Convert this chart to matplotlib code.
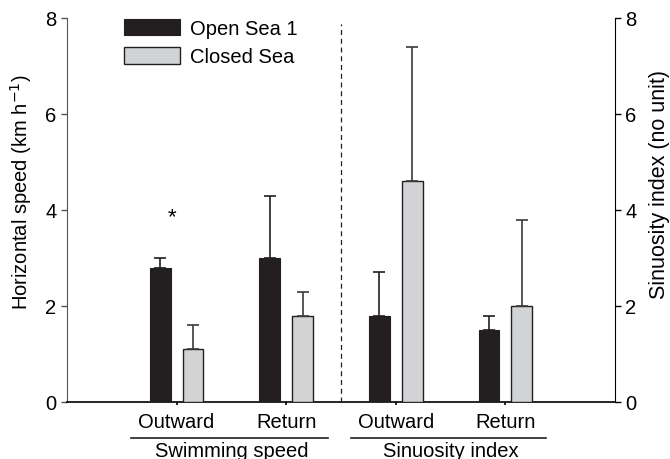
import matplotlib
matplotlib.use("Agg")
import matplotlib.pyplot as plt
from matplotlib.patches import Patch
import numpy as np

plt.rcParams['font.family'] = ['Liberation Sans', 'DejaVu Sans']

groups = ["Swimming speed", "Sinuosity index"]
tick_labels = ["Outward", "Return", "Outward", "Return"]
open_sea = [2.8, 3.0, 1.8, 1.5]
open_err = [0.2, 1.3, 0.9, 0.3]
closed_sea = [1.1, 1.8, 4.6, 2.0]
closed_err = [0.5, 0.5, 2.8, 1.8]
series_names = ["Open Sea 1", "Closed Sea"]

dark = "#231f20"
light = "#d1d3d4"
fs = 14.5

fig = plt.figure(figsize=(6.7, 4.6), dpi=100)
ax = fig.add_axes([0.1, 0.124, 0.818, 0.835])

x = np.arange(1, len(tick_labels) + 1)
w = 0.19
ax.bar(x - 0.15, open_sea, w, color=dark, edgecolor=dark, lw=0.8,
       yerr=[np.zeros(4), open_err], error_kw=dict(ecolor=dark, elinewidth=1.2, capsize=4.3, capthick=1.2),
       zorder=3)
ax.bar(x + 0.15, closed_sea, w, color=light, edgecolor=dark, lw=1.0,
       yerr=[np.zeros(4), closed_err], error_kw=dict(ecolor="#3a3a3a", elinewidth=1.2, capsize=4.3, capthick=1.2),
       zorder=3)

ax.set_xlim(0, 5)
ax.set_ylim(0, 8)
ax.set_yticks([0, 2, 4, 6, 8])
ax.set_xticks(x)
ax.set_xticklabels(tick_labels)
ax.tick_params(axis='x', length=2, width=1.2, pad=5, labelsize=fs)
ax.tick_params(axis='y', length=4, width=1, labelsize=fs, color='#555555')
ax.spines['top'].set_visible(False)
ax.spines['right'].set_visible(False)
ax.spines['left'].set_color('#555555')
ax.spines['bottom'].set_linewidth(1.2)
ax.set_ylabel("Horizontal speed (km h$^{-1}$)", fontsize=fs, labelpad=8)
ax.yaxis.label.set_y(0.55)

ax.axvline(2.5, ymin=0, ymax=0.985, color=dark, lw=0.9, ls=(0, (4, 3)))
ax.text(0.96, 3.85, "*", ha='center', va='center', fontsize=16)

ax2 = ax.twinx()
ax2.set_ylim(0, 8)
ax2.set_yticks([0, 2, 4, 6, 8])
ax2.tick_params(axis='y', length=4, width=1, labelsize=fs)
ax2.spines['top'].set_visible(False)
ax2.spines['left'].set_visible(False)
ax2.spines['bottom'].set_visible(False)
ax2.set_ylabel("Sinuosity index (no unit)", fontsize=15.5, labelpad=9)
ax2.yaxis.label.set_y(0.57)

# group underlines and labels
trans = ax.get_xaxis_transform()
for (a, b), name in zip([(0.58, 2.38), (2.59, 4.37)], groups):
    ax.plot([a, b], [-0.093, -0.093], transform=trans, color=dark, lw=1.2, clip_on=False)
    ax.text((a + b) / 2 + 0.02, -0.101, name, transform=trans, ha='center', va='top', fontsize=fs)

handles = [Patch(facecolor=dark, edgecolor=dark, lw=0.8), Patch(facecolor=light, edgecolor=dark, lw=1.0)]
ax.legend(handles, series_names, loc='upper left', bbox_to_anchor=(0.104, 0.998), frameon=False,
          fontsize=fs, handlelength=2.8, handleheight=0.9, handletextpad=0.5, labelspacing=0.45,
          borderaxespad=0, borderpad=0)

fig.savefig("out.png", dpi=100)
